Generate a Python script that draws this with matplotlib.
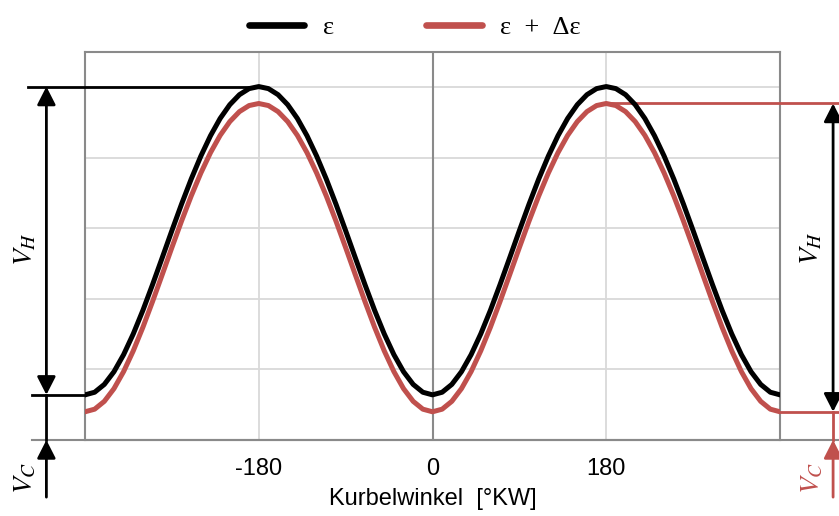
import numpy as np
import matplotlib
matplotlib.use('Agg')
import matplotlib.pyplot as plt
from matplotlib.lines import Line2D

# Daten: Hubvolumenverlauf über Kurbelwinkel, 10°-Schritte
winkel = np.arange(-360, 361, 10)
eps = [0.640, 0.677, 0.788, 0.968, 1.210, 1.504, 1.839, 2.204, 2.584, 2.968,
       3.343, 3.698, 4.024, 4.313, 4.558, 4.753, 4.895, 4.981, 5.010,
       4.981, 4.895, 4.753, 4.558, 4.313, 4.024, 3.698, 3.343, 2.968,
       2.584, 2.204, 1.839, 1.504, 1.210, 0.968, 0.788, 0.677, 0.640,
       0.677, 0.788, 0.968, 1.210, 1.504, 1.839, 2.204, 2.584, 2.968,
       3.343, 3.698, 4.024, 4.313, 4.558, 4.753, 4.895, 4.981, 5.010,
       4.981, 4.895, 4.753, 4.558, 4.313, 4.024, 3.698, 3.343, 2.968,
       2.584, 2.204, 1.839, 1.504, 1.210, 0.968, 0.788, 0.677, 0.640]
eps_delta = [0.400, 0.437, 0.548, 0.728, 0.970, 1.264, 1.599, 1.964, 2.344, 2.728,
             3.103, 3.458, 3.784, 4.073, 4.318, 4.513, 4.655, 4.741, 4.770,
             4.741, 4.655, 4.513, 4.318, 4.073, 3.784, 3.458, 3.103, 2.728,
             2.344, 1.964, 1.599, 1.264, 0.970, 0.728, 0.548, 0.437, 0.400,
             0.437, 0.548, 0.728, 0.970, 1.264, 1.599, 1.964, 2.344, 2.728,
             3.103, 3.458, 3.784, 4.073, 4.318, 4.513, 4.655, 4.741, 4.770,
             4.741, 4.655, 4.513, 4.318, 4.073, 3.784, 3.458, 3.103, 2.728,
             2.344, 1.964, 1.599, 1.264, 0.970, 0.728, 0.548, 0.437, 0.400]
x_ticks = [-180, 0, 180]
x_ticklabels = ['-180', '0', '180']
labels = ['ε', 'ε\u2002+\u2002Δε']

# Farben
schwarz = '#000000'
rot = '#c0504d'
grau = '#8a8a8a'
gitter = '#d9d9d9'

plt.rcParams['font.family'] = ['Liberation Sans', 'DejaVu Sans']
plt.rcParams['mathtext.fontset'] = 'stix'

fig = plt.figure(figsize=(8.39, 5.16), dpi=100)
ax = fig.add_axes([85 / 839, 76 / 516, 695 / 839, 388 / 516])
ax.set_xlim(-360, 360)
ax.set_ylim(0, 5.5)

ax.plot(winkel, eps, color=schwarz, lw=3.6, solid_joinstyle='round', zorder=4)
ax.plot(winkel, eps_delta, color=rot, lw=3.6, solid_joinstyle='round', zorder=3)

# Gitter und Achsen
ax.set_yticks([1, 2, 3, 4, 5])
ax.set_xticks(x_ticks)
ax.set_xticklabels(x_ticklabels)
ax.grid(color=gitter, lw=1.3, zorder=0)
ax.tick_params(length=0, labelleft=False, labelsize=17, pad=13)
ax.axvline(0, color=grau, lw=1.5, zorder=2)
for s in ax.spines.values():
    s.set_color(grau)
    s.set_linewidth(1.5)
ax.set_xlabel('Kurbelwinkel  [°KW]', fontsize=17, labelpad=6)

# Grundlinie über die Achse hinaus verlängern
ax.plot([-415, 421], [0, 0], color=grau, lw=1.5, clip_on=False, zorder=2)

v_max, v_min = max(eps), min(eps)
r_max, r_min = max(eps_delta), min(eps_delta)
pfeil = dict(arrowstyle='<|-|>,head_length=0.55,head_width=0.28',
             mutation_scale=20, lw=2, shrinkA=0, shrinkB=0)
hoch = dict(arrowstyle='-|>,head_length=0.55,head_width=0.28',
            mutation_scale=20, lw=2, shrinkA=0, shrinkB=0)

# links: V_H und V_C für epsilon
ax.plot([-419, -180], [v_max, v_max], color=schwarz, lw=2, clip_on=False, zorder=3)
ax.plot([-415, -360], [v_min, v_min], color=schwarz, lw=2, clip_on=False, zorder=3)
ax.annotate('', xy=(-400, v_max), xytext=(-400, v_min),
            arrowprops=dict(pfeil, color=schwarz), annotation_clip=False)
ax.plot([-400, -400], [v_min, 0], color=schwarz, lw=2, clip_on=False)
ax.annotate('', xy=(-400, 0), xytext=(-400, -0.81),
            arrowprops=dict(hoch, color=schwarz), annotation_clip=False)

# rechts: V_H und V_C für epsilon + delta epsilon
ax.plot([180, 421], [r_max, r_max], color=rot, lw=2, clip_on=False, zorder=3)
ax.plot([360, 421], [r_min, r_min], color=rot, lw=2, clip_on=False, zorder=3)
ax.annotate('', xy=(415, r_max), xytext=(415, r_min),
            arrowprops=dict(pfeil, color=schwarz), annotation_clip=False)
ax.plot([415, 415], [r_min, 0], color=rot, lw=2, clip_on=False)
ax.annotate('', xy=(415, 0), xytext=(415, -0.81),
            arrowprops=dict(hoch, color=rot), annotation_clip=False)

fig.text(25 / 839, 1 - 249 / 516, r'$V_H$', rotation=90, fontsize=20,
         ha='center', va='center', color=schwarz)
fig.text(25 / 839, 1 - 478 / 516, r'$V_C$', rotation=90, fontsize=20,
         ha='center', va='center', color=schwarz)
fig.text(811 / 839, 1 - 248 / 516, r'$V_H$', rotation=90, fontsize=20,
         ha='center', va='center', color=schwarz)
fig.text(812 / 839, 1 - 478 / 516, r'$V_C$', rotation=90, fontsize=20,
         ha='center', va='center', color=rot)

# Legende
handles = [Line2D([], [], color=schwarz, lw=4.8, solid_capstyle='round'),
           Line2D([], [], color=rot, lw=4.8, solid_capstyle='round')]
fig.legend(handles, labels, loc='center', bbox_to_anchor=(415 / 839, 1 - 27 / 516),
           ncol=2, frameon=False, handlelength=2.1, handletextpad=0.7,
           columnspacing=3.5, prop={'family': 'Liberation Serif', 'size': 19})

fig.savefig('out.png', dpi=100)
